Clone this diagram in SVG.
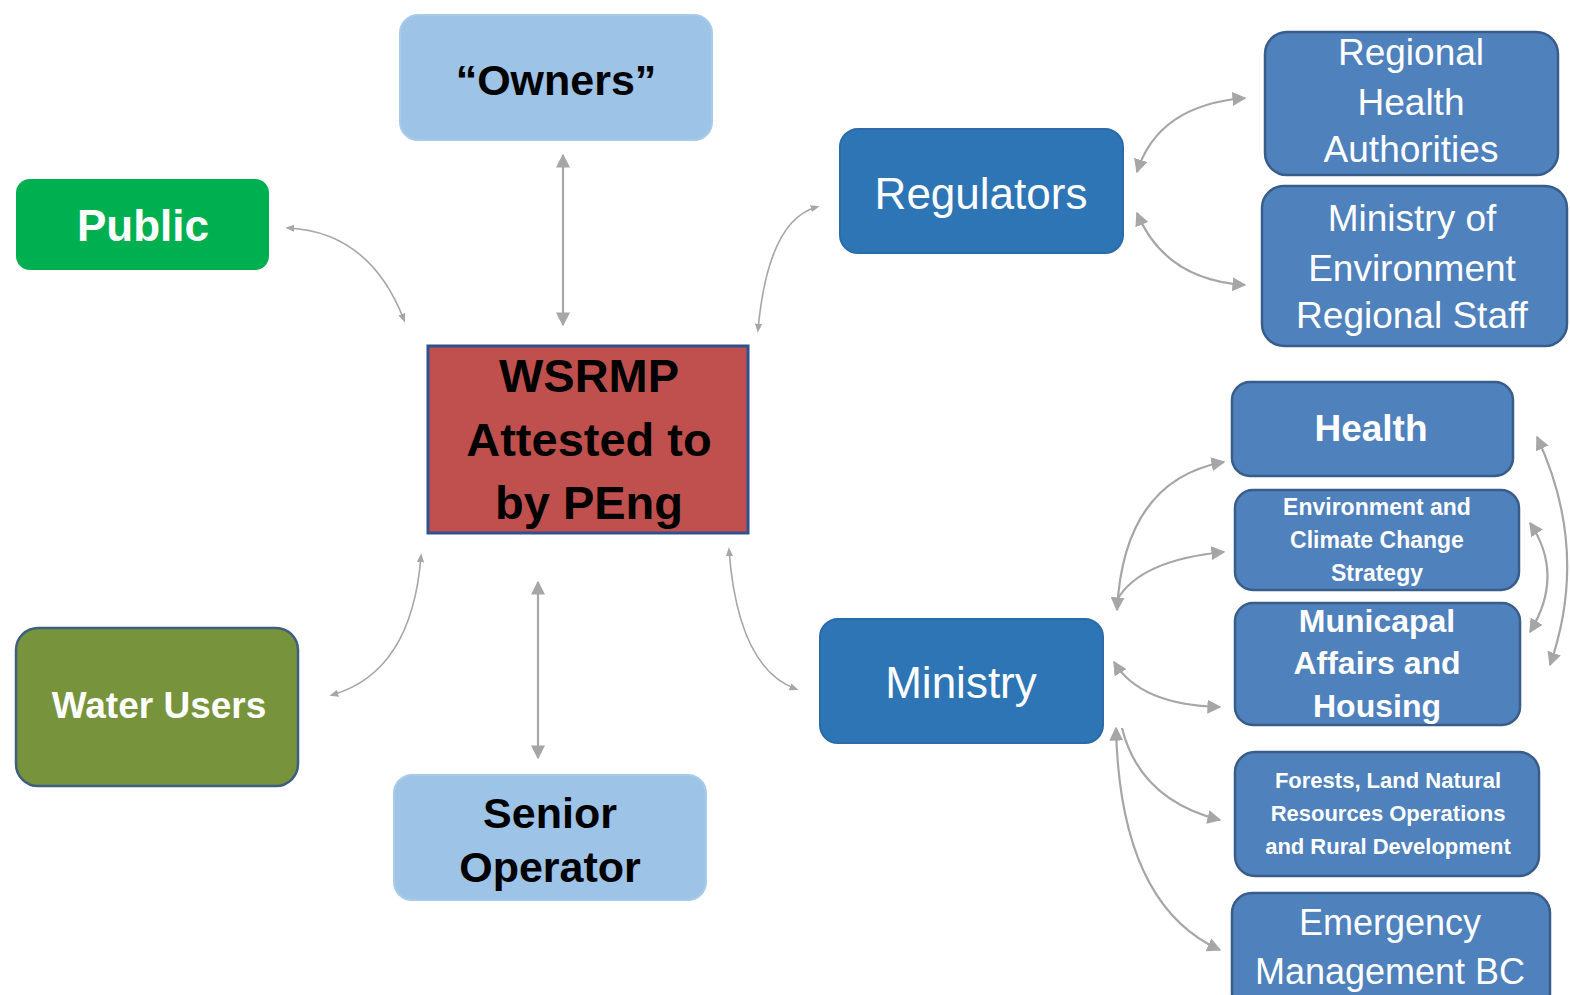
<svg xmlns="http://www.w3.org/2000/svg" width="1570" height="995" viewBox="0 0 1570 995">
<defs>
<style>
text{font-family:"Liberation Sans",Arial,sans-serif;text-anchor:middle}
.lb{fill:#9DC3E6;stroke:#A9CBEA;stroke-width:2}
.db{fill:#2E75B6;stroke:#2A6BA8;stroke-width:2}
.mb{fill:#4F81BD;stroke:#385D8A;stroke-width:2.5}
.bk{fill:#000;font-weight:bold}
.wh{fill:#fff}
.whb{fill:#fff;font-weight:bold}
.c{fill:none;stroke:#A6A6A6;stroke-width:2.2}
.cs{fill:none;stroke:#A6A6A6;stroke-width:1.6}
</style>
<marker id="a" viewBox="0 0 10 10" refX="9" refY="5" markerWidth="14" markerHeight="14" markerUnits="userSpaceOnUse" orient="auto-start-reverse">
<path d="M0,0 L10,5 L0,10 z" fill="#A6A6A6"/>
</marker>
<marker id="d" viewBox="0 0 10 10" refX="7" refY="5" markerWidth="9" markerHeight="9" markerUnits="userSpaceOnUse" orient="auto-start-reverse">
<path d="M0,1 L10,5 L0,9 z" fill="#A6A6A6"/>
</marker>
</defs>

<g id="connectors">
<line class="c" x1="563" y1="155" x2="563" y2="325" marker-start="url(#a)" marker-end="url(#a)"/>
<line class="c" x1="538" y1="582" x2="538" y2="758" marker-start="url(#a)" marker-end="url(#a)"/>
<path class="cs" d="M288,228 Q370,232 404,320" marker-start="url(#d)" marker-end="url(#d)"/>
<path class="cs" d="M817,207 Q768,220 758,330" marker-start="url(#d)" marker-end="url(#d)"/>
<path class="cs" d="M332,695 Q412,672 421,556" marker-start="url(#d)" marker-end="url(#d)"/>
<path class="cs" d="M796,689 Q738,668 729,550" marker-start="url(#d)" marker-end="url(#d)"/>
<path class="c" d="M1137,172 Q1158,105 1245,98" marker-start="url(#a)" marker-end="url(#a)"/>
<path class="c" d="M1137,213 Q1165,280 1245,285" marker-start="url(#a)" marker-end="url(#a)"/>
<path class="c" d="M1117,610 Q1124,480 1224,462" marker-start="url(#a)" marker-end="url(#a)"/>
<path class="c" d="M1117,600 Q1140,560 1224,552" marker-end="url(#a)"/>
<path class="c" d="M1114,662 Q1140,705 1220,707" marker-start="url(#a)" marker-end="url(#a)"/>
<path class="c" d="M1122,728 Q1140,800 1220,820" marker-end="url(#a)"/>
<path class="c" d="M1116,728 Q1120,905 1220,950" marker-start="url(#a)" marker-end="url(#a)"/>
<path class="c" d="M1537,437 Q1590,550 1550,665" marker-start="url(#a)" marker-end="url(#a)"/>
<path class="c" d="M1530,523 Q1565,575 1530,632" marker-start="url(#a)" marker-end="url(#a)"/>
</g>

<g id="owners">
<rect class="lb" x="400" y="15" width="312" height="125" rx="18"/>
<text class="bk" x="556" y="95" font-size="43">“Owners”</text>
</g>

<g id="public">
<rect x="16" y="179" width="253" height="91" rx="14" fill="#00B050"/>
<text class="whb" x="143" y="241" font-size="44">Public</text>
</g>

<g id="regulators">
<rect class="db" x="840" y="129" width="283" height="124" rx="18"/>
<text class="wh" x="981" y="209" font-size="44">Regulators</text>
</g>

<g id="regional-health">
<rect class="mb" x="1265" y="32" width="293" height="143" rx="22"/>
<text class="wh" x="1411" y="65" font-size="37">Regional</text>
<text class="wh" x="1411" y="115" font-size="37">Health</text>
<text class="wh" x="1411" y="162" font-size="37">Authorities</text>
</g>

<g id="moe-regional">
<rect class="mb" x="1262" y="186" width="305" height="160" rx="22"/>
<text class="wh" x="1412" y="231" font-size="37">Ministry of</text>
<text class="wh" x="1412" y="281" font-size="37">Environment</text>
<text class="wh" x="1412" y="328" font-size="37">Regional Staff</text>
</g>

<g id="wsrmp">
<rect x="428" y="346" width="320" height="187" fill="#C0504D" stroke="#2F528F" stroke-width="3"/>
<text class="bk" x="589" y="392" font-size="47">WSRMP</text>
<text class="bk" x="589" y="456" font-size="47">Attested to</text>
<text class="bk" x="589" y="519" font-size="47">by PEng</text>
</g>

<g id="health">
<rect class="mb" x="1232" y="382" width="281" height="94" rx="18"/>
<text class="whb" x="1371" y="441" font-size="37">Health</text>
</g>

<g id="environment">
<rect class="mb" x="1235" y="490" width="284" height="100" rx="18"/>
<text class="whb" x="1377" y="515" font-size="23">Environment and</text>
<text class="whb" x="1377" y="548" font-size="23">Climate Change</text>
<text class="whb" x="1377" y="581" font-size="23">Strategy</text>
</g>

<g id="municipal">
<rect class="mb" x="1235" y="603" width="285" height="122" rx="18"/>
<text class="whb" x="1377" y="632" font-size="32">Municapal</text>
<text class="whb" x="1377" y="674" font-size="32">Affairs and</text>
<text class="whb" x="1377" y="717" font-size="32">Housing</text>
</g>

<g id="forests">
<rect class="mb" x="1235" y="752" width="304" height="124" rx="20"/>
<text class="whb" x="1388" y="788" font-size="22">Forests, Land Natural</text>
<text class="whb" x="1388" y="821" font-size="22">Resources  Operations</text>
<text class="whb" x="1388" y="854" font-size="22">and Rural Development</text>
</g>

<g id="emergency">
<rect class="mb" x="1232" y="893" width="318" height="120" rx="20"/>
<text class="wh" x="1390" y="935" font-size="36">Emergency</text>
<text class="wh" x="1390" y="984" font-size="36">Management BC</text>
</g>

<g id="ministry">
<rect class="db" x="820" y="619" width="283" height="124" rx="18"/>
<text class="wh" x="961" y="698" font-size="44">Ministry</text>
</g>

<g id="water-users">
<rect x="16" y="628" width="282" height="158" rx="22" fill="#77933C" stroke="#3F5F7F" stroke-width="2.5"/>
<text class="whb" x="159" y="718" font-size="37">Water Users</text>
</g>

<g id="senior-operator">
<rect class="lb" x="394" y="775" width="312" height="125" rx="18"/>
<text class="bk" x="550" y="828" font-size="43">Senior</text>
<text class="bk" x="550" y="882" font-size="43">Operator</text>
</g>
</svg>
